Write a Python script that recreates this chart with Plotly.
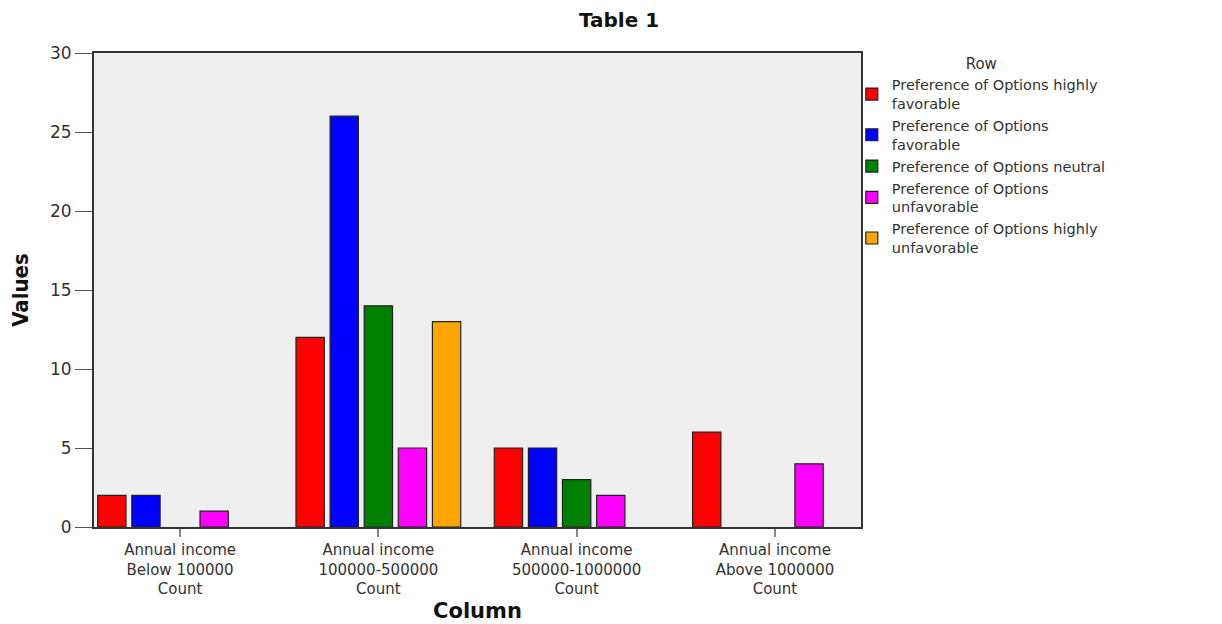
import plotly.graph_objects as go

categories = ["Annual income<br>Below 100000<br>Count",
              "Annual income<br>100000-500000<br>Count",
              "Annual income<br>500000-1000000<br>Count",
              "Annual income<br>Above 1000000<br>Count"]
series_names = ["Preference of Options highly<br>favorable",
                "Preference of Options<br>favorable",
                "Preference of Options neutral",
                "Preference of Options<br>unfavorable",
                "Preference of Options highly<br>unfavorable"]
highly_favorable = [2, 12, 5, 6]
favorable = [2, 26, 5, 0]
neutral = [0, 14, 3, 0]
unfavorable = [1, 5, 2, 4]
highly_unfavorable = [0, 13, 0, 0]
colors = ["#ff0000", "#0000ff", "#008000", "#ff00ff", "#ffa500"]
y_ticks = [0, 5, 10, 15, 20, 25, 30]

series = [highly_favorable, favorable, neutral, unfavorable, highly_unfavorable]
font = "DejaVu Sans, Verdana, sans-serif"

fig = go.Figure()
for name, vals, col in zip(series_names, series, colors):
    fig.add_trace(go.Bar(
        x=list(range(len(categories))),
        y=[v if v != 0 else None for v in vals],
        name=name,
        marker=dict(color=col, line=dict(color="#222222", width=1.2)),
    ))

fig.update_layout(
    width=1222, height=624,
    margin=dict(l=86, r=369, t=45, b=105, autoexpand=False),
    paper_bgcolor="white", plot_bgcolor="#efefef",
    barmode="group", bargap=0.14, bargroupgap=0.17,
    font=dict(family=font, size=15, color="#333333"),
    title=dict(text="<b>Table 1</b>", x=0.5, xanchor="center", y=0.981, yanchor="middle",
               font=dict(family=font, size=20, color="#111111")),
    legend=dict(x=0.988, xanchor="left", y=1.008, yanchor="top",
                title=dict(text="Row", side="top center", font=dict(family=font, size=15, color="#333333")),
                font=dict(family=font, size=14.5, color="#333333"),
                itemwidth=30, tracegroupgap=0, bgcolor="rgba(0,0,0,0)"),
    showlegend=True,
)
fig.update_xaxes(
    tickvals=list(range(len(categories))), ticktext=categories,
    range=[-0.434, 3.434], showgrid=False, zeroline=False, automargin=False,
    showline=True, linecolor="#333333", linewidth=2, mirror=True,
    ticks="outside", ticklen=8, tickcolor="#888888", tickwidth=2,
    tickfont=dict(family=font, size=15, color="#333333"),
    title=dict(text="<b>Column</b>", font=dict(family=font, size=21, color="#111111"), standoff=6),
)
fig.update_yaxes(
    range=[0, 30], tickvals=y_ticks, showgrid=False, zeroline=False, automargin=False,
    showline=True, linecolor="#333333", linewidth=2, mirror=True,
    ticks="outside", ticklen=17, tickcolor="#555555", tickwidth=1,
    tickfont=dict(family=font, size=17, color="#333333"),
    title=dict(text="<b>Values</b>", font=dict(family="Liberation Sans Narrow, DejaVu Sans Condensed, sans-serif", size=22, color="#111111"), standoff=18),
)

fig.write_html("out.html")
